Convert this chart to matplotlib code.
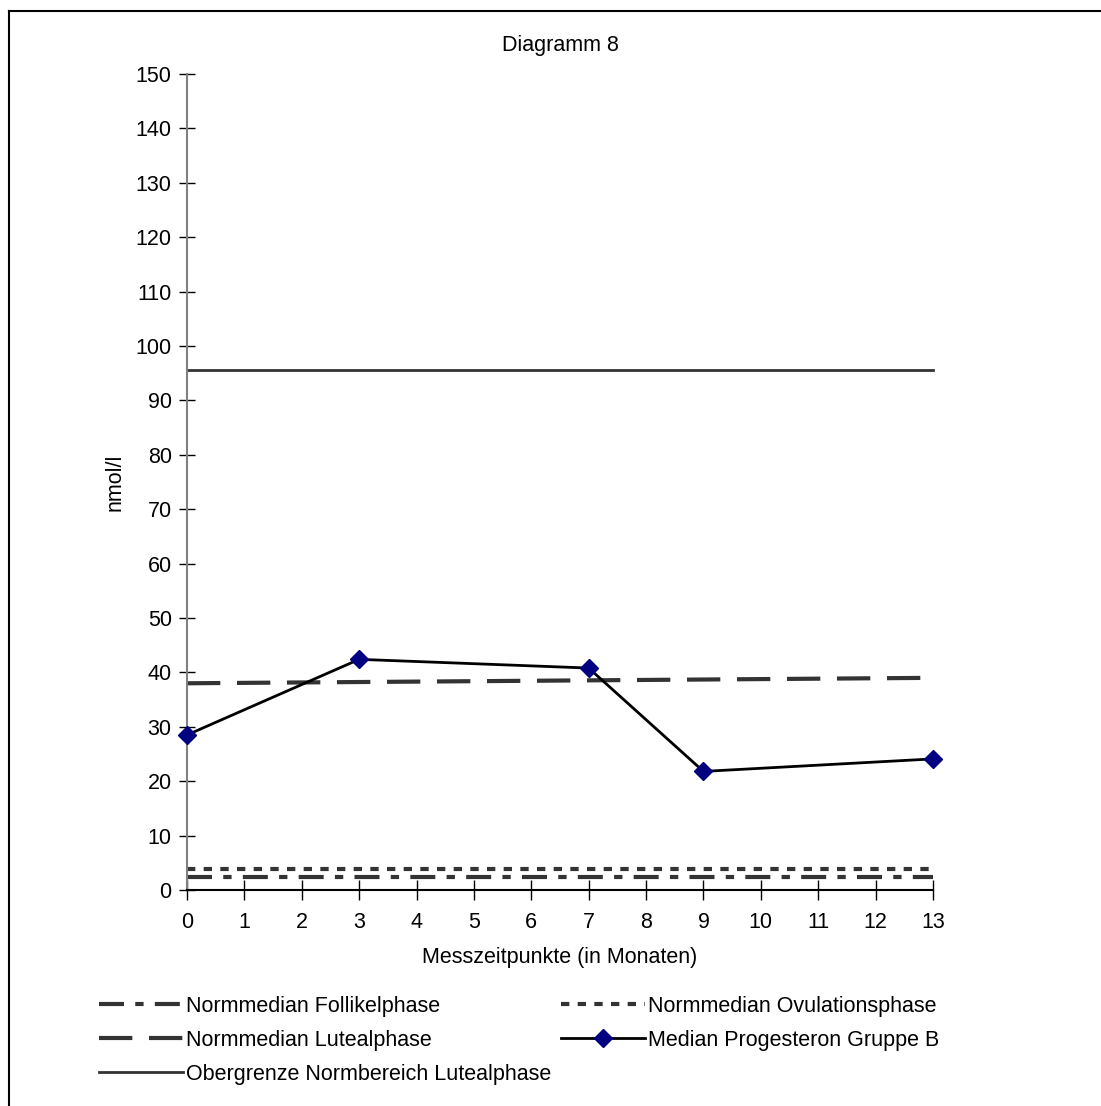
import matplotlib
matplotlib.use("Agg")
import matplotlib.pyplot as plt
from matplotlib.lines import Line2D

plt.rcParams['font.family'] = ['Liberation Sans', 'DejaVu Sans']

# Messzeitpunkte (Monate) und Medianwerte Progesteron
monate = [0, 3, 7, 9, 13]
median_gruppe_b = [28.5, 42.4, 40.8, 21.8, 24.1]

# Referenzlinien (Anfang/Ende ueber den Messzeitraum)
x_ref = [0, 13]
follikel = [2.3, 2.3]
ovulation = [3.8, 3.8]
luteal = [38.0, 39.0]
obergrenze = [95.5, 95.5]

xticks = list(range(0, 14))
yticks = list(range(0, 151, 10))

FS = 15.5
W, H = 1101, 1106
fig = plt.figure(figsize=(W / 100, H / 100), dpi=100)
ax = fig.add_axes([187 / W, 1 - 890 / H, (933 - 187) / W, (890 - 74) / H])

ref_col = '#333333'
dash_fol = (6, 2.7, 2, 2.7)
dash_ovu = (2, 2)
dash_lut = (8, 4)
l_fol, = ax.plot(x_ref, follikel, color=ref_col, lw=3, dashes=dash_fol,
                 label='Normmedian Follikelphase')
l_ovu, = ax.plot(x_ref, ovulation, color=ref_col, lw=3, dashes=dash_ovu,
                 label='Normmedian Ovulationsphase')
l_lut, = ax.plot(x_ref, luteal, color=ref_col, lw=3, dashes=dash_lut,
                 label='Normmedian Lutealphase')
l_med, = ax.plot(monate, median_gruppe_b, color='black', lw=2, marker='D',
                 markersize=9, markerfacecolor='#000080', markeredgecolor='#000080',
                 label='Median Progesteron Gruppe B', zorder=5)
l_obg, = ax.plot(x_ref, obergrenze, color=ref_col, lw=2,
                 label='Obergrenze Normbereich Lutealphase')

ax.set_xlim(0, 13)
ax.set_ylim(0, 150)
ax.set_xticks(xticks)
ax.set_yticks(yticks)
ax.tick_params(labelsize=FS, width=1, color='black')
ax.tick_params(axis='y', direction='inout', length=12, pad=5)
ax.tick_params(axis='x', direction='inout', length=14, pad=9)
for s in ['top', 'right']:
    ax.spines[s].set_visible(False)
ax.spines['left'].set_color('#808080')
ax.spines['left'].set_linewidth(1.5)
ax.spines['bottom'].set_color('black')
ax.spines['bottom'].set_linewidth(1.5)
for l in ax.lines:
    l.set_clip_on(False)

ax.set_xlabel('Messzeitpunkte (in Monaten)', fontsize=FS, va='center')
ax.set_ylabel('nmol/l', fontsize=FS, va='center', ha='center')
ax.xaxis.set_label_coords(0.5, (890 - 958) / 816)
ax.yaxis.set_label_coords((115 - 187) / 746, (890 - 482) / 816)
fig.text(560 / W, 1 - 45 / H, 'Diagramm 8', fontsize=FS, ha='center', va='center')

# Legende mit eigenen Handles, damit Strichmuster passen
handles = [l_fol, l_lut, l_obg, l_ovu, l_med]
patterns = [dash_fol, dash_lut, None, dash_ovu, None]
leg_handles = []
for h, d in zip(handles, patterns):
    nh = Line2D([], [], color=h.get_color(), lw=h.get_linewidth(),
                marker=h.get_marker(), markersize=9,
                markerfacecolor='#000080', markeredgecolor='#000080')
    if d is not None:
        nh.set_dashes(d)
    leg_handles.append(nh)
fig.legend(leg_handles, [h.get_label() for h in handles], ncol=2,
           loc='upper left', bbox_to_anchor=(99 / W, 1 - 996 / H),
           frameon=False, fontsize=FS, handlelength=3.9, handletextpad=0.15,
           columnspacing=0.45, labelspacing=0.6, borderpad=0, borderaxespad=0)

# Rahmen um das Diagramm
fig.add_artist(Line2D([9 / W, 9 / W], [0, 1 - 11 / H], transform=fig.transFigure,
                      color='black', lw=1.5))
fig.add_artist(Line2D([9 / W, 1], [1 - 11 / H, 1 - 11 / H], transform=fig.transFigure,
                      color='black', lw=1.5))

fig.savefig('out.png', dpi=100)
